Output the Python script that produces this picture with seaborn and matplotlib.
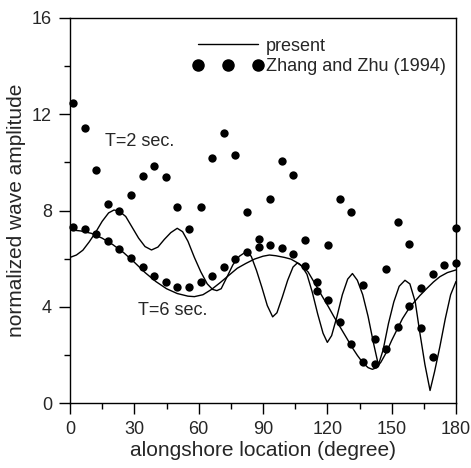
import numpy as np
import pandas as pd
import matplotlib
matplotlib.use("Agg")
import matplotlib.pyplot as plt
import seaborn as sns
from matplotlib.lines import Line2D
from matplotlib.ticker import MultipleLocator

# Zhang and Zhu (1994) sample locations (degree)
obs_x = [1.4, 6.8, 12.2, 17.6, 23.0, 28.5, 33.9, 39.3, 44.7, 50.1, 55.5, 60.9,
         66.3, 71.7, 77.1, 82.6, 88.0, 93.4, 98.8, 104.2, 109.6, 115.0, 120.4,
         125.8, 131.2, 136.7, 142.1, 147.5, 152.9, 158.3, 163.7, 169.1, 174.5, 179.9]
# T=2 sec. points (no point visible at 174.5)
obs_t2 = [12.47, 11.43, 9.68, 8.25, 8.0, 8.64, 9.43, 9.85, 9.4, 8.15, 7.23, 8.15,
          10.18, 11.23, 10.29, 7.94, 6.8, 8.49, 10.07, 9.49, 6.77, 4.67, 6.55,
          8.49, 7.94, 4.9, 2.65, 5.56, 7.51, 6.61, 3.1, 1.92, np.nan, 7.26]
# T=6 sec. points
obs_t6 = [7.3, 7.23, 7.02, 6.75, 6.41, 6.04, 5.64, 5.28, 5.02, 4.84, 4.84, 5.02,
          5.28, 5.64, 5.97, 6.28, 6.47, 6.55, 6.44, 6.18, 5.69, 5.04, 4.28,
          3.37, 2.44, 1.72, 1.62, 2.26, 3.15, 4.03, 4.77, 5.36, 5.74, 5.83]

# present model, T=2 sec.
t2_x = [0, 3, 6, 9, 12, 15, 18, 20.5, 23, 26, 29, 32, 35, 38, 41, 44, 47, 50,
        52.5, 55, 58, 61, 64, 66.5, 68.5, 70.5, 73, 76, 79, 82, 84.5, 87, 89.5,
        92, 94.5, 96.5, 99, 101.5, 104, 106, 108, 110.5, 113, 115.5, 118, 120,
        122, 124.5, 127, 129.5, 131.7, 134, 136.5, 139, 141.5, 143.8, 146, 148.5,
        151, 153.5, 156.2, 158.5, 161, 163, 165.5, 167.9, 170, 172.5, 175, 177.5, 180]
t2_y = [6.05, 6.15, 6.35, 6.7, 7.1, 7.55, 7.9, 8.02, 7.97, 7.75, 7.3, 6.85, 6.5,
        6.36, 6.48, 6.8, 7.08, 7.26, 7.12, 6.72, 6.05, 5.45, 4.95, 4.72, 4.67,
        4.75, 5.2, 5.75, 6.1, 6.28, 6.1, 5.5, 4.8, 4.05, 3.58, 3.75, 4.4, 5.1,
        5.65, 5.82, 5.7, 5.35, 4.6, 3.7, 2.9, 2.52, 2.8, 3.6, 4.5, 5.15, 5.38,
        5.1, 4.5, 3.6, 2.5, 1.58, 2.2, 3.3, 4.2, 4.85, 5.1, 4.95, 4.2, 3.0, 1.6,
        0.52, 1.3, 2.35, 3.5, 4.5, 5.05]

# present model, T=6 sec.
t6_x = [0, 5, 10, 15, 20, 25, 30, 35, 40, 45, 50, 55, 58, 62, 66, 70, 74, 78,
        82, 86, 90, 93, 96, 100, 103, 107, 111, 114.3, 117.5, 120.5, 123, 126,
        129, 131.5, 134, 136.5, 139, 141, 143, 145, 147.5, 150, 152.5, 155,
        157.5, 160, 163, 166.5, 169.5, 172.5, 176, 180]
t6_y = [7.2, 7.15, 7.05, 6.85, 6.58, 6.25, 5.85, 5.42, 5.05, 4.75, 4.55, 4.44,
        4.42, 4.5, 4.72, 5.0, 5.3, 5.6, 5.8, 5.98, 6.1, 6.15, 6.12, 6.05, 5.98,
        5.78, 5.45, 4.95, 4.45, 4.0, 3.6, 3.15, 2.7, 2.32, 1.98, 1.68, 1.47,
        1.4, 1.47, 1.7, 2.1, 2.6, 3.05, 3.5, 3.85, 4.14, 4.45, 4.77, 5.03, 5.25,
        5.42, 5.53]

sns.set_style("ticks")
plt.rcParams['font.family'] = ['Liberation Sans', 'DejaVu Sans']

obs = pd.DataFrame({'x': obs_x * 2, 'y': obs_t2 + obs_t6}).dropna()

fig = plt.figure(figsize=(4.71, 4.68), dpi=100)
ax = fig.add_axes([70 / 471, 1 - 403 / 468, 386 / 471, 385 / 468])

sns.lineplot(x=t2_x, y=t2_y, sort=False, estimator=None, color='black', lw=1.0, ax=ax)
sns.lineplot(x=t6_x, y=t6_y, sort=False, estimator=None, color='black', lw=1.0, ax=ax)
sns.scatterplot(data=obs, x='x', y='y', color='black', s=36, linewidth=0,
                clip_on=False, zorder=3, ax=ax)

ax.set_xlim(0, 180)
ax.set_ylim(0, 16)
ax.xaxis.set_major_locator(MultipleLocator(30))
ax.xaxis.set_minor_locator(MultipleLocator(15))
ax.yaxis.set_major_locator(MultipleLocator(4))
ax.yaxis.set_minor_locator(MultipleLocator(2))
ax.tick_params(which='major', direction='out', length=8, width=1, labelsize=13, pad=5, color='black')
ax.tick_params(which='minor', direction='out', length=4, width=1, color='black')
for sp in ax.spines.values():
    sp.set_visible(True)
    sp.set_color('black')
    sp.set_linewidth(1)

ax.set_xlabel('alongshore location (degree)', fontsize=15, labelpad=2)
ax.set_ylabel('normalized wave amplitude', fontsize=15, labelpad=4)

ax.text(16.3, 10.86, 'T=2 sec.', fontsize=13, ha='left', va='center')
ax.text(31.7, 3.84, 'T=6 sec.', fontsize=13, ha='left', va='center')

handles = [Line2D([], [], color='black', lw=1.0),
           Line2D([], [], ls='none', marker='o', color='black', markersize=8)]
ax.legend(handles, ['present', 'Zhang and Zhu (1994)'], loc='upper left',
          bbox_to_anchor=(0.318, 0.949), frameon=False, fontsize=13,
          numpoints=3, handlelength=3.9, handletextpad=0.17, labelspacing=0.2,
          borderpad=0, borderaxespad=0)

fig.savefig('out.png', dpi=100)
